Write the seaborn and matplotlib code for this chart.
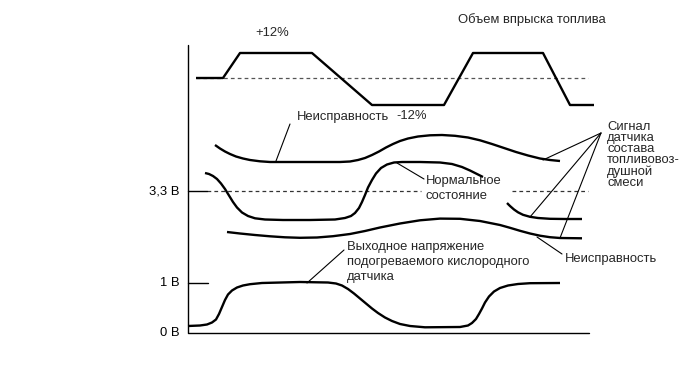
import matplotlib
matplotlib.use("Agg")
import matplotlib.pyplot as plt
import seaborn as sns
import pandas as pd

sns.set_theme(style="white")
plt.rcParams['font.family'] = ['Liberation Sans', 'DejaVu Sans']

# ---- data (in diagram units: x to the right, y downward) ----
# fuel injection volume (trapezoid wave)
inj_x = [196, 223, 240, 312, 372, 444, 473, 543, 570, 594]
inj_y = [78, 78, 53, 53, 105, 105, 53, 53, 105, 105]

# A/F sensor signal – malfunction (upper)
afm1_x = [215, 220, 225, 230, 236, 243, 250, 260, 270, 300, 340, 350, 358, 365, 372, 379, 386, 393,
          400, 408, 418, 430, 442, 455, 468, 480, 492, 504, 516, 528, 540, 550, 560]
afm1_y = [145, 148.5, 151.5, 154, 156.5, 158.5, 160, 161.3, 162, 162, 162, 161.5, 160, 158, 155, 151.5,
          147.5, 144, 141, 138.5, 136.5, 135.3, 135, 135.8, 137.5, 140.3, 144, 148, 152, 155.5, 158.5, 160, 161]

# A/F sensor signal – normal
afn_x = [205, 209, 213, 217, 221, 225, 229, 233, 237, 242, 248, 255, 265, 283, 310, 335, 345, 351, 355,
         359, 362, 365, 368, 372, 376, 381, 387, 394, 402, 420, 440, 452, 462, 470, 477, 483]
afn_y = [173, 174, 176, 179, 183.5, 189, 195.5, 202, 207.5, 212.5, 216, 218.3, 219.5, 220, 220, 219.5,
         218, 216, 213, 208, 202, 195, 187.5, 180, 173.5, 168, 164.5, 162.5, 162, 162, 162.5, 164, 167,
         170.5, 174, 177]
afn2_x = [507, 510, 514, 518, 523, 530, 538, 550, 565, 582]
afn2_y = [203, 206, 209.5, 212.3, 214.8, 216.8, 218, 218.8, 219, 219]

# A/F sensor signal – malfunction (lower)
afm2_x = [227, 240, 255, 270, 285, 300, 317, 333, 350, 365, 380, 400, 420, 440, 460, 480, 500, 510,
          520, 530, 540, 550, 560, 582]
afm2_y = [232, 233.5, 235, 236.3, 237.3, 237.8, 237.5, 236.2, 234, 231, 227.5, 223.5, 220.3, 218.6,
          218.8, 221, 225, 227.8, 230.8, 233.5, 235.7, 237.2, 238, 238.3]

# heated oxygen sensor output
o2_x = [188, 200, 207, 212, 216, 219, 222, 225, 228, 232, 237, 243, 250, 262, 300, 328, 336, 342, 348,
        354, 360, 366, 372, 378, 385, 392, 400, 410, 425, 460, 468, 472, 476, 479, 482, 485, 489, 494,
        500, 508, 518, 530, 560]
o2_y = [326, 325.5, 324.5, 322.5, 319.5, 314, 307, 300, 294.5, 290.5, 287.5, 285.5, 284.2, 283, 282,
        282.5, 283.5, 285.5, 289, 293.5, 298.5, 303.5, 308.5, 313, 317.5, 321, 324, 326, 327.3, 327,
        325.5, 323, 319, 314, 308.5, 302.5, 296.5, 291.5, 288, 285.5, 284, 283.2, 283]

# axis and reference levels
axis_x = [188, 188, 589]
axis_y = [45, 333, 333]
ref_levels = {'3,3 В': 191, '1 В': 283, '0 В': 333}

# leader lines: (x0, y0, x1, y1)
leaders = [
    (290, 124, 276, 161),
    (424, 179, 397, 163),
    (344, 250, 307, 283),
    (601, 133, 543, 160),
    (601, 133, 530, 217),
    (601, 133, 560, 238),
    (562, 254, 537, 237),
]

# ---- figure ----
fig = plt.figure(figsize=(6.9, 3.69), dpi=100)
ax = fig.add_axes([0, 0, 1, 1])

K = 'black'
fs = 9.4
dash = (0, (3, 2.5))

# dashed reference lines
ax.plot([196, 588], [78, 78], ls=dash, color='#555555', lw=0.9, zorder=1)
ax.plot([207, 421], [191, 191], ls=dash, color='#333333', lw=0.9, zorder=1)
ax.plot([512, 588], [191, 191], ls=dash, color='#333333', lw=0.9, zorder=1)

# axes
ax.plot(axis_x, axis_y, color=K, lw=1.0)
ax.plot([188, 207], [191, 191], color=K, lw=1.0)
ax.plot([188, 208], [283, 283], color=K, lw=1.0)

def curve(xs, ys, lw=1.7):
    df = pd.DataFrame({'x': xs, 'y': ys})
    sns.lineplot(data=df, x='x', y='y', sort=False, estimator=None, color=K,
                 lw=lw, ax=ax, solid_joinstyle='round', solid_capstyle='butt')

curve(inj_x, inj_y)
curve(afm1_x, afm1_y)
curve(afn_x, afn_y)
curve(afn2_x, afn2_y)
curve(afm2_x, afm2_y)
curve(o2_x, o2_y)

for x0, y0, x1, y1 in leaders:
    ax.plot([x0, x1], [y0, y1], color=K, lw=0.8)

ax.set_xlim(0, 690)
ax.set_ylim(369, 0)
ax.axis('off')

# labels
for lab, yv in ref_levels.items():
    ax.text(179, yv, lab, ha='right', va='center', fontsize=fs, color=K)

ax.text(272, 33, '+12%', ha='center', va='center', fontsize=fs)
ax.text(412, 116, '-12%', ha='center', va='center', fontsize=fs)
ax.text(458, 20, 'Объем впрыска топлива', ha='left', va='center', fontsize=fs)
ax.text(297, 117, 'Неисправность', ha='left', va='center', fontsize=fs)
ax.text(426, 188.5, 'Нормальное\nсостояние', ha='left', va='center', fontsize=fs, linespacing=1.27)
ax.text(607, 155, 'Сигнал\nдатчика\nсостава\nтопливовоз-\nдушной\nсмеси', ha='left', va='center',
        fontsize=fs, linespacing=0.9)
ax.text(347, 262, 'Выходное напряжение\nподогреваемого кислородного\nдатчика', ha='left', va='center',
        fontsize=fs, linespacing=1.35)
ax.text(565, 259, 'Неисправность', ha='left', va='center', fontsize=fs)

fig.savefig('out.png', dpi=100, facecolor='white')
